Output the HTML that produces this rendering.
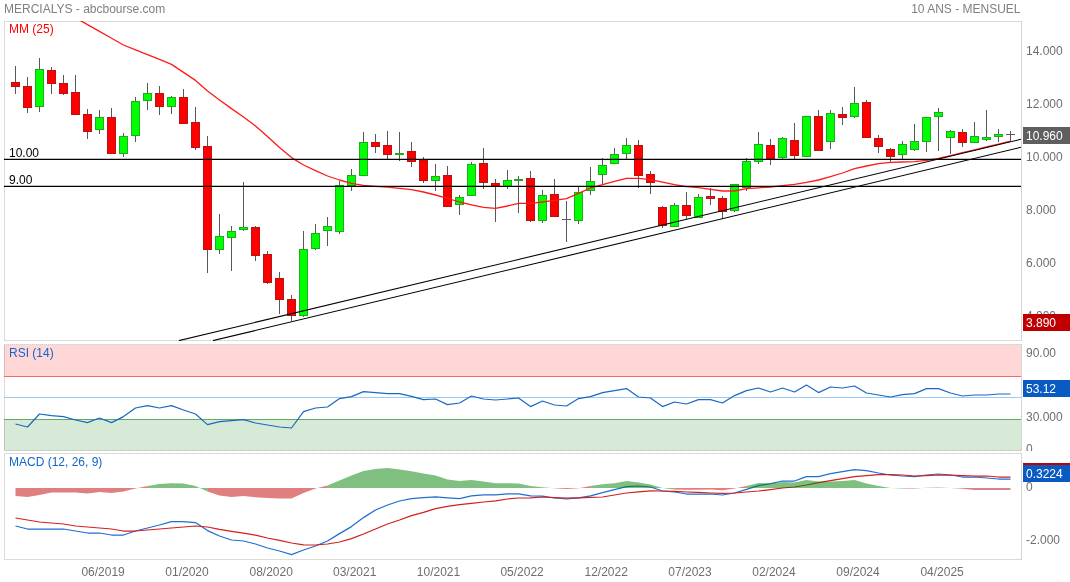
<!DOCTYPE html>
<html><head><meta charset="utf-8"><title>MERCIALYS</title>
<style>html,body{margin:0;padding:0;background:#fff;overflow:hidden}svg{display:block;will-change:transform}text{font-family:"Liberation Sans",sans-serif;font-size:12px}</style></head>
<body>
<svg width="1070" height="582" viewBox="0 0 1070 582">
<rect x="0" y="0" width="1070" height="582" fill="#fff"/>
<defs>
<clipPath id="cm"><rect x="4" y="21" width="1017" height="320"/></clipPath>
<clipPath id="cr"><rect x="4" y="344" width="1017" height="107"/></clipPath>
<clipPath id="cd"><rect x="4" y="453" width="1017" height="107"/></clipPath>
<clipPath id="cpos"><rect x="0" y="400" width="1070" height="88.0"/></clipPath>
<clipPath id="cneg"><rect x="0" y="488.0" width="1070" height="100"/></clipPath>
</defs>
<text x="4" y="13" fill="#7f7f7f">MERCIALYS - abcbourse.com</text>
<text x="1020.5" y="13" fill="#7f7f7f" text-anchor="end">10 ANS - MENSUEL</text>
<rect x="4" y="345" width="1017" height="31.5" fill="#ffd7d7"/>
<rect x="4" y="419.5" width="1017" height="31" fill="#d7ead7"/>
<g shape-rendering="crispEdges" stroke="#cfcfcf" stroke-width="1" fill="none">
<path d="M4 21.5H1021M4 340.5H1021M4.5 21V341" stroke="#000" stroke-opacity=".1"/>
<path d="M4 21.5H1021M4 340.5H1021M4.5 21V341" stroke="#000" stroke-opacity=".09" stroke-dasharray="1 1"/>
<path d="M1021.5 21V341" stroke="#000" stroke-opacity=".12"/>
<path d="M1021.5 21V341" stroke="#000" stroke-opacity=".09" stroke-dasharray="1 1"/>
</g>
<g shape-rendering="crispEdges" stroke="#cfcfcf" stroke-width="1" fill="none">
<path d="M4 344.5H1021M4 450.5H1021M4.5 344V451" stroke="#000" stroke-opacity=".1"/>
<path d="M4 344.5H1021M4 450.5H1021M4.5 344V451" stroke="#000" stroke-opacity=".09" stroke-dasharray="1 1"/>
<path d="M1021.5 344V451" stroke="#000" stroke-opacity=".12"/>
<path d="M1021.5 344V451" stroke="#000" stroke-opacity=".09" stroke-dasharray="1 1"/>
</g>
<g shape-rendering="crispEdges" stroke="#cfcfcf" stroke-width="1" fill="none">
<path d="M4 453.5H1021M4 559.5H1021M4.5 453V560" stroke="#000" stroke-opacity=".1"/>
<path d="M4 453.5H1021M4 559.5H1021M4.5 453V560" stroke="#000" stroke-opacity=".09" stroke-dasharray="1 1"/>
<path d="M1021.5 453V560" stroke="#000" stroke-opacity=".12"/>
<path d="M1021.5 453V560" stroke="#000" stroke-opacity=".09" stroke-dasharray="1 1"/>
</g>
<g clip-path="url(#cm)">
<g shape-rendering="crispEdges">
<path d="M15.5 66V94M27.5 77V113M39.5 58V112M51.5 67V94M63.5 75V95M75.5 75V115M87.5 109V139M99.5 110V134M111.5 108V154M123.5 133V157M135.5 97V142M147.5 83V110M159.5 86V115M171.5 96V114M183.5 89V124M195.5 107V150M207.5 136V273M219.5 214V254M231.5 226V271M243.5 182V231M255.5 226V261M267.5 251V284M279.5 272V314M291.5 295V321M303.5 231V317M315.5 224V250M327.5 217V246M339.5 181V234M351.5 169V191M363.5 132V176M375.5 134V153M387.5 131V159M399.5 132V161M411.5 142V167M423.5 157V183M435.5 164V191M447.5 166V207M459.5 195V215M471.5 162V196M483.5 148V189M495.5 179V222M507.5 170V189M518.5 176V213M530.5 171V222M542.5 190V223M554.5 179V217M566.5 201V242M562 219.5H571M578.5 187V224M590.5 167V195M602.5 158V184M614.5 148V164M626.5 138V159M638.5 140V188M650.5 171V194M662.5 206V228M674.5 203V227M686.5 192V219M698.5 194V218M710.5 188V205M722.5 196V219M734.5 184V212M746.5 158V191M758.5 132V164M770.5 139V165M782.5 137V159M794.5 123V159M806.5 116V157M818.5 110V151M830.5 110V149M842.5 107V125M854.5 87V118M866.5 100V138M878.5 135V153M890.5 148V162M902.5 141V159M914.5 124V151M926.5 117V152M938.5 108V151M950.5 130V154M962.5 129V147M974.5 122V143M986.5 110V141M998.5 129V142M1010.5 131V141M1006 134.5H1015" stroke="#585858" stroke-width="1" fill="none"/>
<path d="M11.5 82.5H19.5V86.5H11.5ZM23.5 86.5H31.5V107.5H23.5ZM47.5 70.5H55.5V83.5H47.5ZM59.5 83.5H67.5V93.5H59.5ZM71.5 92.5H79.5V114.5H71.5ZM83.5 114.5H91.5V131.5H83.5ZM107.5 117.5H115.5V153.5H107.5ZM155.5 93.5H163.5V106.5H155.5ZM179.5 97.5H187.5V123.5H179.5ZM191.5 122.5H199.5V147.5H191.5ZM203.5 146.5H211.5V249.5H203.5ZM251.5 227.5H259.5V255.5H251.5ZM263.5 254.5H271.5V282.5H263.5ZM275.5 278.5H283.5V299.5H275.5ZM287.5 299.5H295.5V315.5H287.5ZM371.5 142.5H379.5V146.5H371.5ZM383.5 145.5H391.5V154.5H383.5ZM407.5 151.5H415.5V161.5H407.5ZM419.5 160.5H427.5V180.5H419.5ZM443.5 175.5H451.5V206.5H443.5ZM479.5 163.5H487.5V182.5H479.5ZM491.5 183.5H499.5V186.5H491.5ZM526.5 178.5H534.5V220.5H526.5ZM550.5 194.5H558.5V216.5H550.5ZM634.5 145.5H642.5V175.5H634.5ZM646.5 174.5H654.5V182.5H646.5ZM658.5 207.5H666.5V225.5H658.5ZM682.5 205.5H690.5V215.5H682.5ZM706.5 196.5H714.5V198.5H706.5ZM718.5 198.5H726.5V211.5H718.5ZM766.5 145.5H774.5V158.5H766.5ZM790.5 140.5H798.5V155.5H790.5ZM814.5 116.5H822.5V150.5H814.5ZM838.5 114.5H846.5V117.5H838.5ZM862.5 102.5H870.5V137.5H862.5ZM874.5 138.5H882.5V146.5H874.5ZM886.5 149.5H894.5V156.5H886.5ZM958.5 132.5H966.5V142.5H958.5Z" fill="#ff0000" stroke="#b41616" stroke-width="1"/>
<path d="M35.5 69.5H43.5V106.5H35.5ZM95.5 117.5H103.5V129.5H95.5ZM119.5 136.5H127.5V153.5H119.5ZM131.5 101.5H139.5V135.5H131.5ZM143.5 93.5H151.5V100.5H143.5ZM167.5 97.5H175.5V106.5H167.5ZM215.5 236.5H223.5V249.5H215.5ZM227.5 231.5H235.5V237.5H227.5ZM239.5 227.5H247.5V229.5H239.5ZM299.5 249.5H307.5V315.5H299.5ZM311.5 233.5H319.5V248.5H311.5ZM323.5 226.5H331.5V230.5H323.5ZM335.5 185.5H343.5V231.5H335.5ZM347.5 175.5H355.5V185.5H347.5ZM359.5 142.5H367.5V175.5H359.5ZM395.5 153.5H403.5V154.5H395.5ZM431.5 176.5H439.5V180.5H431.5ZM455.5 197.5H463.5V204.5H455.5ZM467.5 164.5H475.5V195.5H467.5ZM503.5 180.5H511.5V186.5H503.5ZM514.5 179.5H522.5V180.5H514.5ZM538.5 195.5H546.5V220.5H538.5ZM574.5 192.5H582.5V220.5H574.5ZM586.5 181.5H594.5V190.5H586.5ZM598.5 165.5H606.5V174.5H598.5ZM610.5 154.5H618.5V163.5H610.5ZM622.5 145.5H630.5V153.5H622.5ZM670.5 205.5H678.5V226.5H670.5ZM694.5 197.5H702.5V217.5H694.5ZM730.5 184.5H738.5V210.5H730.5ZM742.5 161.5H750.5V187.5H742.5ZM754.5 144.5H762.5V161.5H754.5ZM778.5 138.5H786.5V157.5H778.5ZM802.5 116.5H810.5V156.5H802.5ZM826.5 113.5H834.5V141.5H826.5ZM850.5 103.5H858.5V116.5H850.5ZM898.5 144.5H906.5V154.5H898.5ZM910.5 141.5H918.5V149.5H910.5ZM922.5 117.5H930.5V141.5H922.5ZM934.5 112.5H942.5V116.5H934.5ZM946.5 131.5H954.5V137.5H946.5ZM970.5 136.5H978.5V142.5H970.5ZM982.5 137.5H990.5V139.5H982.5ZM994.5 134.5H1002.5V136.5H994.5Z" fill="#00ff00" stroke="#1cac1c" stroke-width="1"/>
</g>
<polyline points="75.5,17.8 87.5,24.6 99.5,31.4 111.5,38.2 123.5,45.0 135.5,49.9 147.5,54.7 159.5,59.4 171.5,64.4 183.5,72.4 195.5,80.4 207.5,91.0 219.5,100.0 231.5,108.6 243.5,117.0 255.5,126.0 267.5,136.4 279.5,147.6 291.5,157.6 303.5,165.0 315.5,170.6 327.5,176.0 339.5,180.0 351.5,183.4 363.5,185.4 375.5,186.4 387.5,187.2 399.5,188.4 411.5,189.6 423.5,192.0 435.5,195.0 447.5,198.4 459.5,202.0 471.5,204.8 483.5,207.4 495.5,208.4 507.5,206.0 518.5,203.4 530.5,203.4 542.5,202.0 554.5,200.4 566.5,198.6 578.5,193.4 590.5,188.0 602.5,184.6 614.5,181.4 626.5,178.4 638.5,178.4 650.5,179.6 662.5,182.2 674.5,184.6 686.5,186.6 698.5,187.6 710.5,189.4 722.5,191.0 734.5,191.0 746.5,188.6 758.5,187.8 770.5,187.0 782.5,185.6 794.5,184.4 806.5,182.4 818.5,180.0 830.5,176.6 842.5,173.0 854.5,168.6 866.5,166.0 878.5,163.6 890.5,162.4 902.5,162.0 914.5,161.6 926.5,160.4 938.5,158.5 950.5,155.6 962.5,152.7 974.5,149.8 986.5,147.0 998.5,144.1 1010.5,141.2" fill="none" stroke="#ff1a1a" stroke-width="1.3" stroke-linejoin="round"/>
<g stroke="#000" fill="none">
<path d="M4 159.4H1021M4 186.4H1021" stroke-width="1.25"/>
<path d="M179 340.6L1021 139.30" stroke-width="1.1"/>
<path d="M213 340.6L1021 147.25" stroke-width="1.1"/>
</g>
</g>
<text x="9" y="33" fill="#ff0000">MM (25)</text>
<text x="9" y="157" fill="#000">10.00</text>
<text x="9" y="184" fill="#000">9.00</text>
<text x="1026" y="55" fill="#6e6e6e">14.000</text>
<text x="1026" y="108" fill="#6e6e6e">12.000</text>
<text x="1026" y="161" fill="#6e6e6e">10.000</text>
<text x="1026" y="214" fill="#6e6e6e">8.000</text>
<text x="1026" y="267" fill="#6e6e6e">6.000</text>
<text x="1026" y="320" fill="#6e6e6e">4.000</text>
<rect x="1023" y="127" width="47" height="17" fill="#5f5f5f"/>
<text x="1026" y="140" fill="#fff">10.960</text>
<rect x="1023" y="314" width="47" height="17" fill="#c00000"/>
<text x="1026" y="327" fill="#fff">3.890</text>
<g clip-path="url(#cr)">
<g shape-rendering="crispEdges" stroke-width="1">
<path d="M4 376.5H1021" stroke="#f26a6a"/>
<path d="M4 397.5H1021" stroke="#9accf5"/>
<path d="M4 419.5H1021" stroke="#5fab5f"/>
</g>
<polyline points="15.5,424.0 27.5,427.0 39.5,414.0 51.5,415.6 63.5,416.6 75.5,420.0 87.5,422.6 99.5,418.0 111.5,422.6 123.5,416.6 135.5,408.0 147.5,405.6 159.5,408.0 171.5,405.6 183.5,410.0 195.5,414.0 207.5,424.6 219.5,421.6 231.5,420.6 243.5,419.6 255.5,423.0 267.5,425.0 279.5,427.0 291.5,428.0 303.5,411.6 315.5,408.0 327.5,407.0 339.5,398.6 351.5,396.6 363.5,391.6 375.5,392.6 387.5,393.6 399.5,393.6 411.5,396.3 423.5,399.6 435.5,399.0 447.5,404.6 459.5,403.0 471.5,396.0 483.5,399.0 495.5,400.0 507.5,399.0 518.5,398.0 530.5,406.6 542.5,401.0 554.5,405.0 566.5,406.0 578.5,398.6 590.5,396.6 602.5,392.6 614.5,390.6 626.5,388.6 638.5,397.0 650.5,398.0 662.5,406.6 674.5,402.0 686.5,404.0 698.5,399.6 710.5,399.6 722.5,403.0 734.5,395.6 746.5,390.6 758.5,388.0 770.5,392.0 782.5,388.0 794.5,392.0 806.5,385.0 818.5,392.6 830.5,387.0 842.5,388.0 854.5,386.0 866.5,393.0 878.5,395.0 890.5,397.0 902.5,394.6 914.5,393.6 926.5,388.6 938.5,388.6 950.5,393.0 962.5,396.0 974.5,395.0 986.5,395.0 998.5,394.0 1010.5,394.0" fill="none" stroke="#1b68c2" stroke-width="1.2" stroke-linejoin="round"/>
</g>
<text x="9" y="357" fill="#1565c8">RSI (14)</text>
<text x="1026" y="357" fill="#6e6e6e">90.00</text>
<text x="1026" y="421" fill="#6e6e6e">30.000</text>
<clipPath id="c0"><rect x="1022" y="430" width="48" height="21"/></clipPath>
<text x="1026" y="453" fill="#6e6e6e" clip-path="url(#c0)">0</text>
<rect x="1023" y="380" width="47" height="17" fill="#0a5ac4"/>
<text x="1026" y="393" fill="#fff">53.12</text>
<g clip-path="url(#cd)">
<polyline points="15.5,526.0 27.5,529.0 39.5,529.0 51.5,529.0 63.5,529.0 75.5,531.0 87.5,533.0 99.5,533.0 111.5,535.0 123.5,535.0 135.5,531.0 147.5,528.0 159.5,525.0 171.5,521.6 183.5,521.6 195.5,522.6 207.5,530.6 219.5,536.0 231.5,540.0 243.5,541.0 255.5,544.0 267.5,548.0 279.5,551.0 291.5,554.6 303.5,550.0 315.5,546.0 327.5,541.0 339.5,533.6 351.5,526.6 363.5,517.6 375.5,510.0 387.5,505.0 399.5,501.0 411.5,498.6 423.5,497.6 435.5,496.8 447.5,497.8 459.5,498.6 471.5,495.8 483.5,494.8 495.5,494.8 507.5,493.8 518.5,493.8 530.5,495.8 542.5,496.2 554.5,498.0 566.5,498.8 578.5,497.8 590.5,495.8 602.5,492.6 614.5,489.6 626.5,486.6 638.5,486.0 650.5,487.0 662.5,491.0 674.5,492.0 686.5,494.0 698.5,494.0 710.5,494.0 722.5,495.0 734.5,493.0 746.5,489.4 758.5,485.6 770.5,483.6 782.5,481.0 794.5,481.0 806.5,476.6 818.5,476.6 830.5,473.6 842.5,471.6 854.5,469.6 866.5,470.6 878.5,473.0 890.5,475.0 902.5,476.0 914.5,476.6 926.5,475.0 938.5,474.0 950.5,475.0 962.5,477.0 974.5,477.0 986.5,478.0 998.5,479.0 1010.5,479.0" fill="none" stroke="#1f6fd0" stroke-width="1.25" stroke-linejoin="round"/>
<polyline points="15.5,518.0 27.5,520.0 39.5,522.0 51.5,523.0 63.5,524.0 75.5,526.0 87.5,527.0 99.5,528.0 111.5,529.0 123.5,531.0 135.5,531.0 147.5,530.0 159.5,529.0 171.5,528.0 183.5,527.0 195.5,526.0 207.5,527.0 219.5,529.4 231.5,531.4 243.5,533.2 255.5,535.2 267.5,538.0 279.5,540.4 291.5,543.0 303.5,544.8 315.5,545.0 327.5,544.0 339.5,542.0 351.5,538.6 363.5,534.0 375.5,529.0 387.5,524.0 399.5,520.0 411.5,515.6 423.5,512.4 435.5,508.6 447.5,506.4 459.5,504.6 471.5,503.4 483.5,502.0 495.5,500.8 507.5,499.0 518.5,498.0 530.5,497.8 542.5,497.0 554.5,497.6 566.5,498.0 578.5,497.8 590.5,497.4 602.5,497.0 614.5,495.0 626.5,493.0 638.5,491.8 650.5,490.8 662.5,491.0 674.5,491.4 686.5,492.0 698.5,492.4 710.5,493.0 722.5,493.4 734.5,493.0 746.5,492.0 758.5,491.0 770.5,489.6 782.5,488.0 794.5,487.0 806.5,485.0 818.5,482.6 830.5,480.6 842.5,478.6 854.5,476.6 866.5,475.6 878.5,474.6 890.5,474.6 902.5,475.0 914.5,476.0 926.5,475.6 938.5,475.0 950.5,475.0 962.5,475.6 974.5,476.0 986.5,476.0 998.5,477.0 1010.5,477.0" fill="none" stroke="#d21f1f" stroke-width="1.25" stroke-linejoin="round"/>
<path d="M147.5 488.0L147.5 486.0L159.5 484.0L159.5 488.0ZM159.5 488.0L159.5 484.0L171.5 483.2L171.5 488.0ZM171.5 488.0L171.5 483.2L183.5 483.4L183.5 488.0ZM183.5 488.0L183.5 483.4L195.5 486.0L195.5 488.0ZM195.5 488.0L195.5 486.0L207.5 491.4L207.5 488.0ZM327.5 488.0L327.5 485.6L339.5 480.6L339.5 488.0ZM339.5 488.0L339.5 480.6L351.5 475.6L351.5 488.0ZM351.5 488.0L351.5 475.6L363.5 471.0L363.5 488.0ZM363.5 488.0L363.5 471.0L375.5 469.0L375.5 488.0ZM375.5 488.0L375.5 469.0L387.5 468.0L387.5 488.0ZM387.5 488.0L387.5 468.0L399.5 469.4L399.5 488.0ZM399.5 488.0L399.5 469.4L411.5 471.2L411.5 488.0ZM411.5 488.0L411.5 471.2L423.5 473.4L423.5 488.0ZM423.5 488.0L423.5 473.4L435.5 475.4L435.5 488.0ZM435.5 488.0L435.5 475.4L447.5 479.4L447.5 488.0ZM447.5 488.0L447.5 479.4L459.5 481.0L459.5 488.0ZM459.5 488.0L459.5 481.0L471.5 480.0L471.5 488.0ZM471.5 488.0L471.5 480.0L483.5 481.4L483.5 488.0ZM483.5 488.0L483.5 481.4L495.5 483.2L495.5 488.0ZM495.5 488.0L495.5 483.2L507.5 483.2L507.5 488.0ZM507.5 488.0L507.5 483.2L518.5 483.4L518.5 488.0ZM518.5 488.0L518.5 483.4L530.5 486.0L530.5 488.0ZM530.5 488.0L530.5 486.0L542.5 487.2L542.5 488.0ZM542.5 488.0L542.5 487.2L554.5 488.3L554.5 488.0ZM590.5 488.0L590.5 486.0L602.5 484.2L602.5 488.0ZM602.5 488.0L602.5 484.2L614.5 483.2L614.5 488.0ZM614.5 488.0L614.5 483.2L626.5 481.0L626.5 488.0ZM626.5 488.0L626.5 481.0L638.5 482.4L638.5 488.0ZM638.5 488.0L638.5 482.4L650.5 484.4L650.5 488.0ZM650.5 488.0L650.5 484.4L662.5 488.0L662.5 488.0ZM662.5 488.0L662.5 488.0L674.5 489.4L674.5 488.0ZM746.5 488.0L746.5 486.0L758.5 483.0L758.5 488.0ZM758.5 488.0L758.5 483.0L770.5 483.4L770.5 488.0ZM770.5 488.0L770.5 483.4L782.5 482.0L782.5 488.0ZM782.5 488.0L782.5 482.0L794.5 482.6L794.5 488.0ZM794.5 488.0L794.5 482.6L806.5 480.0L806.5 488.0ZM806.5 488.0L806.5 480.0L818.5 481.4L818.5 488.0ZM818.5 488.0L818.5 481.4L830.5 481.4L830.5 488.0ZM830.5 488.0L830.5 481.4L842.5 481.0L842.5 488.0ZM842.5 488.0L842.5 481.0L854.5 480.0L854.5 488.0ZM854.5 488.0L854.5 480.0L866.5 483.4L866.5 488.0ZM866.5 488.0L866.5 483.4L878.5 486.0L878.5 488.0ZM878.5 488.0L878.5 486.0L890.5 488.0L890.5 488.0ZM890.5 488.0L890.5 488.0L902.5 488.4L902.5 488.0ZM926.5 488.0L926.5 487.8L938.5 487.4L938.5 488.0ZM938.5 488.0L938.5 487.4L950.5 488.0L950.5 488.0ZM950.5 488.0L950.5 488.0L962.5 488.8L962.5 488.0Z" fill="#008000" fill-opacity=".5"/>
<path d="M15.5 488.0L15.5 496.0L27.5 497.0L27.5 488.0ZM27.5 488.0L27.5 497.0L39.5 495.0L39.5 488.0ZM39.5 488.0L39.5 495.0L51.5 492.6L51.5 488.0ZM51.5 488.0L51.5 492.6L63.5 492.6L63.5 488.0ZM63.5 488.0L63.5 492.6L75.5 492.6L75.5 488.0ZM75.5 488.0L75.5 492.6L87.5 493.6L87.5 488.0ZM87.5 488.0L87.5 493.6L99.5 492.0L99.5 488.0ZM99.5 488.0L99.5 492.0L111.5 493.0L111.5 488.0ZM111.5 488.0L111.5 493.0L123.5 491.6L123.5 488.0ZM123.5 488.0L123.5 491.6L135.5 488.6L135.5 488.0ZM135.5 488.0L135.5 488.6L147.5 486.0L147.5 488.0ZM207.5 488.0L207.5 491.4L219.5 495.6L219.5 488.0ZM219.5 488.0L219.5 495.6L231.5 497.0L231.5 488.0ZM231.5 488.0L231.5 497.0L243.5 496.0L243.5 488.0ZM243.5 488.0L243.5 496.0L255.5 497.2L255.5 488.0ZM255.5 488.0L255.5 497.2L267.5 498.0L267.5 488.0ZM267.5 488.0L267.5 498.0L279.5 498.6L279.5 488.0ZM279.5 488.0L279.5 498.6L291.5 498.6L291.5 488.0ZM291.5 488.0L291.5 498.6L303.5 493.0L303.5 488.0ZM303.5 488.0L303.5 493.0L315.5 488.4L315.5 488.0ZM315.5 488.0L315.5 488.4L327.5 485.6L327.5 488.0ZM554.5 488.0L554.5 488.3L566.5 488.9L566.5 488.0ZM566.5 488.0L566.5 488.9L578.5 488.3L578.5 488.0ZM578.5 488.0L578.5 488.3L590.5 486.0L590.5 488.0ZM674.5 488.0L674.5 489.4L686.5 489.8L686.5 488.0ZM686.5 488.0L686.5 489.8L698.5 489.8L698.5 488.0ZM698.5 488.0L698.5 489.8L710.5 489.6L710.5 488.0ZM710.5 488.0L710.5 489.6L722.5 490.2L722.5 488.0ZM722.5 488.0L722.5 490.2L734.5 488.4L734.5 488.0ZM734.5 488.0L734.5 488.4L746.5 486.0L746.5 488.0ZM902.5 488.0L902.5 488.4L914.5 488.6L914.5 488.0ZM914.5 488.0L914.5 488.6L926.5 487.8L926.5 488.0ZM962.5 488.0L962.5 488.8L974.5 490.0L974.5 488.0ZM974.5 488.0L974.5 490.0L986.5 490.0L986.5 488.0ZM986.5 488.0L986.5 490.0L998.5 490.0L998.5 488.0ZM998.5 488.0L998.5 490.0L1010.5 490.0L1010.5 488.0Z" fill="#c00000" fill-opacity=".5"/>
</g>
<text x="9" y="466" fill="#1565c8">MACD (12, 26, 9)</text>
<text x="1026" y="491" fill="#6e6e6e">0</text>
<text x="1026" y="544" fill="#6e6e6e">-2.000</text>
<rect x="1023" y="463" width="47" height="17" fill="#c00000"/>
<rect x="1023" y="465" width="47" height="17" fill="#0a5ac4"/>
<text x="1026" y="478" fill="#fff">0.3224</text>
<text x="103.1" y="576" fill="#6e6e6e" text-anchor="middle">06/2019</text>
<text x="187.0" y="576" fill="#6e6e6e" text-anchor="middle">01/2020</text>
<text x="271.2" y="576" fill="#6e6e6e" text-anchor="middle">08/2020</text>
<text x="354.7" y="576" fill="#6e6e6e" text-anchor="middle">03/2021</text>
<text x="438.5" y="576" fill="#6e6e6e" text-anchor="middle">10/2021</text>
<text x="522.1" y="576" fill="#6e6e6e" text-anchor="middle">05/2022</text>
<text x="606.2" y="576" fill="#6e6e6e" text-anchor="middle">12/2022</text>
<text x="690.0" y="576" fill="#6e6e6e" text-anchor="middle">07/2023</text>
<text x="773.9" y="576" fill="#6e6e6e" text-anchor="middle">02/2024</text>
<text x="858.0" y="576" fill="#6e6e6e" text-anchor="middle">09/2024</text>
<text x="942.1" y="576" fill="#6e6e6e" text-anchor="middle">04/2025</text>
</svg>
</body></html>
